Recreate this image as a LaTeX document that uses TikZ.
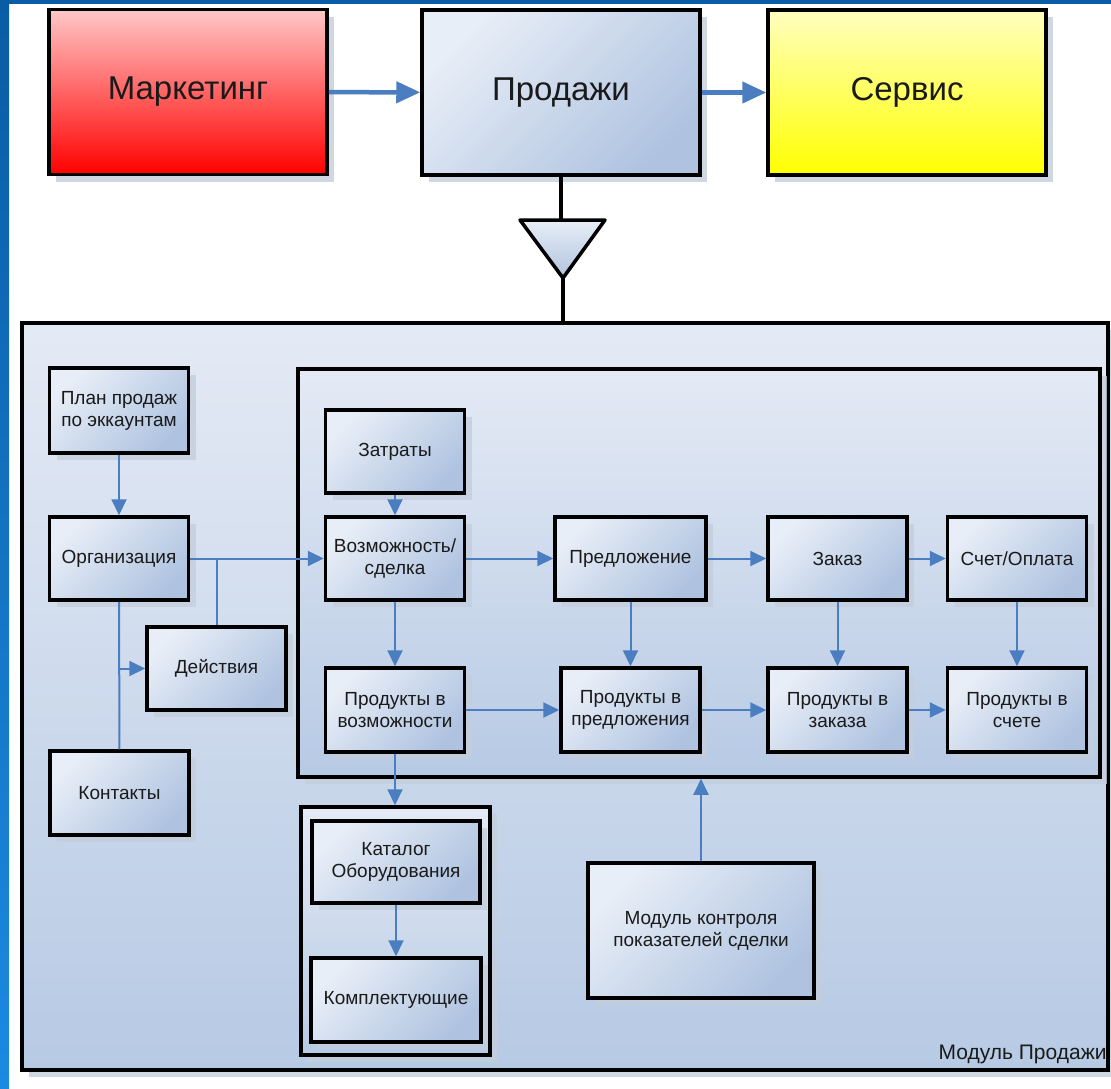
\documentclass[tikz,border=0pt]{standalone}
\usepackage{fontspec}
\setmainfont{Liberation Sans}
\usetikzlibrary{arrows.meta, shadows}

\definecolor{boxlight}{HTML}{E8EEF7}
\definecolor{boxdark}{HTML}{AFC3E0}
\definecolor{modlight}{HTML}{E4EAF5}
\definecolor{moddark}{HTML}{B7CAE4}
\definecolor{arrowc}{HTML}{4A7EC0}
\definecolor{textc}{HTML}{1A1A1A}
\definecolor{frametop}{HTML}{0A5CA5}
\definecolor{framebot}{HTML}{1C8AE0}
\definecolor{shadowc}{HTML}{C4CEDC}

\begin{document}
\begin{tikzpicture}[x=1pt, y=-1pt,
    box/.style={draw=black, line width=3.5pt, top color=boxlight, bottom color=boxdark, shading angle=45,
        drop shadow={shadow xshift=7pt, shadow yshift=-7pt, fill=shadowc, opacity=0.8},
        minimum width=139pt, minimum height=83pt, align=center, inner sep=0pt, text=textc,
        font=\fontsize{19}{22}\selectfont},
    bigbox/.style={box, minimum width=278pt, minimum height=165pt, font=\fontsize{33}{38}\selectfont},
    area/.style={box, top color=modlight, bottom color=moddark},
    tri/.style={draw=black, line width=3.5pt, line join=round, top color=boxlight, bottom color=boxdark},
    arr/.style={arrowc, line width=2pt, -{Triangle[length=16pt, width=15pt]}},
    link/.style={arrowc, line width=2pt},
    bigarr/.style={arrowc, line width=4.5pt, -{Triangle[length=24pt, width=21pt]}},
    stem/.style={black, line width=3.5pt}]

    % Page and blue frame
    \useasboundingbox (0,0) rectangle (1111,1088);
    \fill[white] (0,0) rectangle (1111,1088);
    \shade[top color=frametop, bottom color=framebot] (0,0) rectangle (9,1088);
    \fill[frametop] (0,0) rectangle (1111,3.5);

    % Top level
    \node[bigbox, top color=red!22!white, middle color=red, bottom color=red] (marketing) at (188,92) {Маркетинг};
    \node[bigbox] (prodazhi) at (561,92.5) {Продажи};
    \node[bigbox, top color=yellow!25!white, middle color=yellow, bottom color=yellow] (servis) at (907,92.5) {Сервис};

    % Sales module frames
    \node[area, minimum width=1086pt, minimum height=747pt] (modul) at (565,696.5) {};
    \node[area, minimum width=802pt, minimum height=408pt] (zone) at (699,573) {};
    \node[area, minimum width=189pt, minimum height=248pt] (katgroup) at (395.5,931) {};
    \node[anchor=base east, inner sep=0pt, text=textc, font=\fontsize{21}{24}\selectfont] (modlabel)
        at ([xshift=-3pt, yshift=12pt]modul.south east) {Модуль Продажи};

    % Merge triangle
    \coordinate (tritop) at (561,220);
    \coordinate (tritip) at (563,278);
    \draw[tri] (520,220) -- (605,220) -- (tritip) -- cycle;

    % Accounts column
    \node[box, minimum height=85pt] (plan) at (119,410.5) {План продаж\\по эккаунтам};
    \node[box] (org) at (119,558.5) {Организация};
    \node[box] (dejstvia) at (216.5,668.5) {Действия};
    \node[box, minimum height=84pt] (kontakty) at (119.5,793) {Контакты};

    % Deal chain
    \node[box] (zatraty) at (395,451.5) {Затраты};
    \node[box] (vozm) at (395,558.5) {Возможность/\\сделка};
    \node[box, minimum width=151pt] (predl) at (630.5,558.5) {Предложение};
    \node[box] (zakaz) at (837.5,558.5) {Заказ};
    \node[box] (schet) at (1017,558.5) {Счет/Оплата};

    % Products
    \node[box, minimum height=84pt] (prodvozm) at (395,710) {Продукты в\\возможности};
    \node[box, minimum height=84pt] (prodpredl) at (630.5,710) {Продукты в\\предложения};
    \node[box, minimum height=84pt] (prodzakaz) at (837.5,710) {Продукты в\\заказа};
    \node[box, minimum height=84pt] (prodschet) at (1017,710) {Продукты в\\счете};

    % Catalogue and control
    \node[box, minimum width=168pt, minimum height=82pt] (katalog) at (396,862) {Каталог\\Оборудования};
    \node[box, minimum width=170pt, minimum height=84pt] (kompl) at (396,1000) {Комплектующие};
    \node[box, minimum width=226pt, minimum height=135pt] (kontrol) at (701,930.5) {Модуль контроля\\показателей сделки};

    % Top arrows and stem
    \draw[bigarr] (marketing) -- (prodazhi);
    \draw[bigarr] (prodazhi) -- (servis);
    \draw[stem] (prodazhi) -- (tritop);
    \draw[stem] (tritip) -- (tritip |- modul.north);

    % Accounts links
    \draw[arr] (plan) -- (org);
    \draw[arr] (org) -- (vozm);
    \draw[link] (dejstvia) -- (dejstvia |- org);
    \draw[link] (org) -- (kontakty);
    \draw[arr] (dejstvia.west -| org) -- (dejstvia);

    % Deal links
    \draw[arr] (zatraty) -- (vozm);
    \draw[arr] (vozm) -- (predl);
    \draw[arr] (predl) -- (zakaz);
    \draw[arr] (zakaz) -- (schet);
    \draw[arr] (vozm) -- (prodvozm);
    \draw[arr] (predl) -- (prodpredl);
    \draw[arr] (zakaz) -- (prodzakaz);
    \draw[arr] (schet) -- (prodschet);
    \draw[arr] (prodvozm) -- (prodpredl);
    \draw[arr] (prodpredl) -- (prodzakaz);
    \draw[arr] (prodzakaz) -- (prodschet);

    % Catalogue and control links
    \draw[arr] (prodvozm) -- (prodvozm |- katgroup.north);
    \draw[arr] (katalog) -- (kompl);
    \draw[arr] (kontrol) -- (kontrol |- zone.south);
\end{tikzpicture}
\end{document}
